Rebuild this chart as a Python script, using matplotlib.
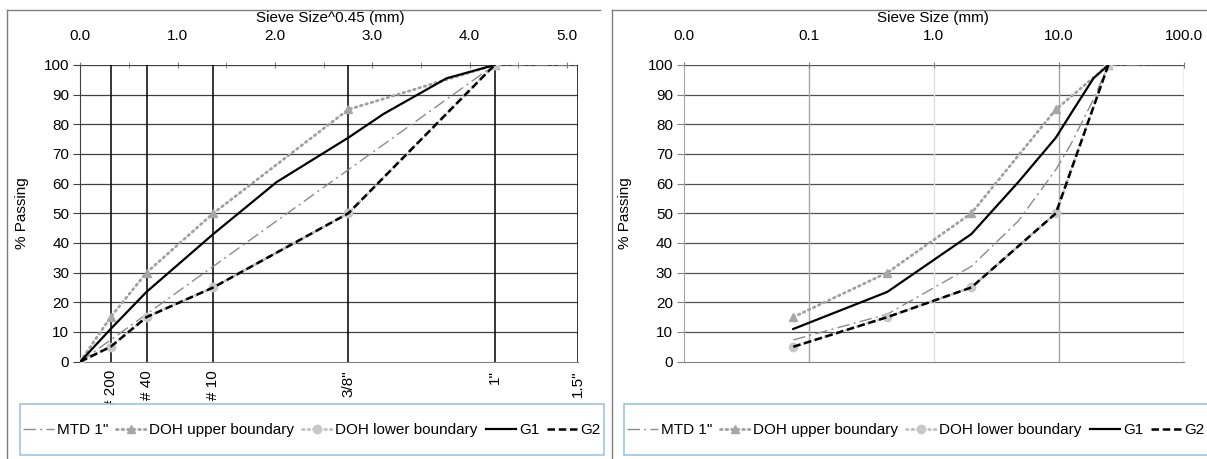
import numpy as np
import matplotlib
matplotlib.use('Agg')
import matplotlib.pyplot as plt
from matplotlib.patches import Rectangle
from matplotlib.lines import Line2D
from matplotlib.transforms import Bbox, TransformedBbox

plt.rcParams['font.family'] = ['Liberation Sans', 'DejaVu Sans']
plt.rcParams['font.size'] = 11

# --- Data (sieve sizes in mm, % passing) ---
mtd_sieve = [0.075, 0.425, 2.0, 4.75, 9.5, 12.5, 19.0, 25.0, 50.0]
mtd_pass = [7.3, 16.0, 32.1, 47.4, 64.7, 73.2, 88.4, 100.0, 100.0]
doh_sieve = [0.075, 0.425, 2.0, 9.5, 25.0]
doh_upper = [15, 30, 50, 85, 100]
doh_lower = [5, 15, 25, 50, 100]
g1_sieve = [0.075, 0.425, 2.0, 4.75, 9.5, 12.5, 19.0, 25.0]
g1_pass = [11, 23.5, 43, 60.5, 75.5, 83.5, 95.5, 100]
g2_sieve = [0.075, 0.425, 2.0, 9.5, 25.0]
g2_pass = [5, 15, 25, 50, 100]

sieve_ticks = [0.075, 0.425, 2.0, 9.5, 25.0, 37.5]
sieve_labels = ['# 200', '# 40', '# 10', '3/8"', '1"', '1.5"']
pow_ticks = [0, 1, 2, 3, 4, 5]
log_ticks = [0.01, 0.1, 1, 10, 100]
log_labels = ['0.0', '0.1', '1.0', '10.0', '100.0']
labels = ['MTD 1"', 'DOH upper boundary', 'DOH lower boundary', 'G1', 'G2']

EXP = 0.45
W, H = 1207, 459

def fx(px): return px / W
def fy(py): return 1 - py / H

styles = [
    dict(color='#8c8c8c', lw=1.0, dashes=(9, 3, 1.5, 3)),
    dict(color='#a0a0a0', lw=2.0, dashes=(0.6, 1.4), marker='^', ms=6,
         mfc='#a6a6a6', mec='#a6a6a6', dash_capstyle='round'),
    dict(color='#c0c0c0', lw=2.0, dashes=(0.6, 1.4), marker='o', ms=6,
         mfc='#c8c8c8', mec='#c8c8c8', dash_capstyle='round'),
    dict(color='black', lw=1.6, linestyle='-'),
    dict(color='black', lw=1.8, dashes=(3, 1.5)),
]

series = [(mtd_sieve, mtd_pass), (doh_sieve, doh_upper), (doh_sieve, doh_lower),
          (g1_sieve, g1_pass), (g2_sieve, g2_pass)]

fig = plt.figure(figsize=(W / 100, H / 100), dpi=100)

y_top, y_bot = 65, 361.6
axL = fig.add_axes([fx(80.3), fy(y_bot), (577.5 - 80.3) / W, (y_bot - y_top) / H])
axR = fig.add_axes([fx(684), fy(y_bot), (1183.5 - 684) / W, (y_bot - y_top) / H])

# --- Left: power 0.45 chart ---
tick_pos = np.array(sieve_ticks) ** EXP
for (xs, ys), st, lab in zip(series, styles, labels):
    xp = np.concatenate([[0.0], np.array(xs) ** EXP])
    yp = np.concatenate([[0.0], ys])
    axL.plot(xp, yp, label=lab, clip_on=True, zorder=3, **st)
axL.set_xlim(0, tick_pos[-1])
axL.set_ylim(0, 100)
axL.set_yticks(range(0, 101, 10))
for y in range(10, 101, 10):
    axL.axhline(y, color='#404040', lw=0.9, zorder=1)
axL.vlines(tick_pos, 0, 100, color='black', lw=1.1, zorder=1)
axL.set_xticks(tick_pos)
axL.set_xticklabels(sieve_labels, rotation=90, va='top', ha='center')
axL.tick_params(axis='x', length=0, pad=6)
axL.tick_params(axis='y', length=5, width=0.8, color='#404040', pad=3)
for s in ['top', 'right']:
    axL.spines[s].set_visible(False)
axL.spines['left'].set_color('#404040')
axL.spines['bottom'].set_color('#808080')
axL.set_ylabel('% Passing')
axL.yaxis.set_label_coords(-0.104, 0.5)

secL = axL.secondary_xaxis('top')
secL.set_xticks(pow_ticks)
secL.set_xticklabels([f'{v:.1f}' for v in pow_ticks])
secL.set_xticks(np.arange(0.5, 5.1, 1.0), minor=True)
secL.tick_params(which='both', direction='inout', length=5, color='#808080', pad=13)
secL.spines['top'].set_visible(False)

# --- Right: log chart ---
for (xs, ys), st, lab in zip(series, styles, labels):
    axR.plot(xs, ys, label=lab, zorder=3, **st)
axR.set_xscale('log')
axR.set_xlim(log_ticks[0], log_ticks[-1])
axR.set_ylim(0, 100)
axR.set_yticks(range(0, 101, 10))
for y in range(10, 101, 10):
    axR.axhline(y, color='#505050', lw=0.9, zorder=1)
axR.axvline(0.1, color='#a6a6a6', lw=1.0, zorder=1)
axR.axvline(1, color='#e0e0e0', lw=1.0, zorder=1)
axR.axvline(10, color='#a6a6a6', lw=1.0, zorder=1)
axR.axvline(100, color='#a6a6a6', lw=1.0, zorder=1)
axR.xaxis.tick_top()
axR.set_xticks(log_ticks)
axR.set_xticklabels(log_labels)
axR.xaxis.set_minor_locator(matplotlib.ticker.NullLocator())
axR.tick_params(axis='x', direction='inout', length=5, color='#808080', pad=13)
axR.tick_params(axis='y', length=5, width=0.8, color='#808080', pad=3)
for s in ['top', 'right']:
    axR.spines[s].set_visible(False)
axR.spines['left'].set_color('#a6a6a6')
axR.spines['bottom'].set_color('#808080')
axR.set_ylabel('% Passing')
axR.yaxis.set_label_coords(-0.104, 0.5)

# --- Axis titles ---
fig.text(fx(330), fy(18), 'Sieve Size^0.45 (mm)', ha='center', va='center')
fig.text(fx(933), fy(18), 'Sieve Size (mm)', ha='center', va='center')

# --- Panel borders ---
fig.add_artist(Line2D([fx(7), fx(600)], [fy(10), fy(10)], color='#7f7f7f', lw=1.0))
fig.add_artist(Line2D([fx(7), fx(7)], [fy(10), 0], color='#7f7f7f', lw=1.0))
fig.add_artist(Line2D([fx(612), 1], [fy(10), fy(10)], color='#7f7f7f', lw=1.0))
fig.add_artist(Line2D([fx(612), fx(612)], [fy(10), 0], color='#7f7f7f', lw=1.0))

# --- Legends ---
handles, labs = axL.get_legend_handles_labels()
for x0, x1 in [(20, 604), (624, 1215)]:
    fig.add_artist(Rectangle((fx(x0), fy(455)), fx(x1) - fx(x0), (455 - 404) / H,
                             transform=fig.transFigure, facecolor='white',
                             edgecolor='#9dc3e6', lw=1.2))
    leg = fig.legend(handles, labs, loc='center left',
                     bbox_to_anchor=(fx(x0 + 3), fy(430)), ncol=5, frameon=False,
                     handlelength=2.0, handletextpad=0.2, columnspacing=0.5,
                     borderaxespad=0, borderpad=0, numpoints=1)
    clip = TransformedBbox(Bbox([[fx(x0), 0], [fx(x1), 1]]), fig.transFigure)
    for t in leg.get_texts():
        t.set_clip_box(clip)
        t.set_clip_on(True)

fig.savefig('out.png', dpi=100)
